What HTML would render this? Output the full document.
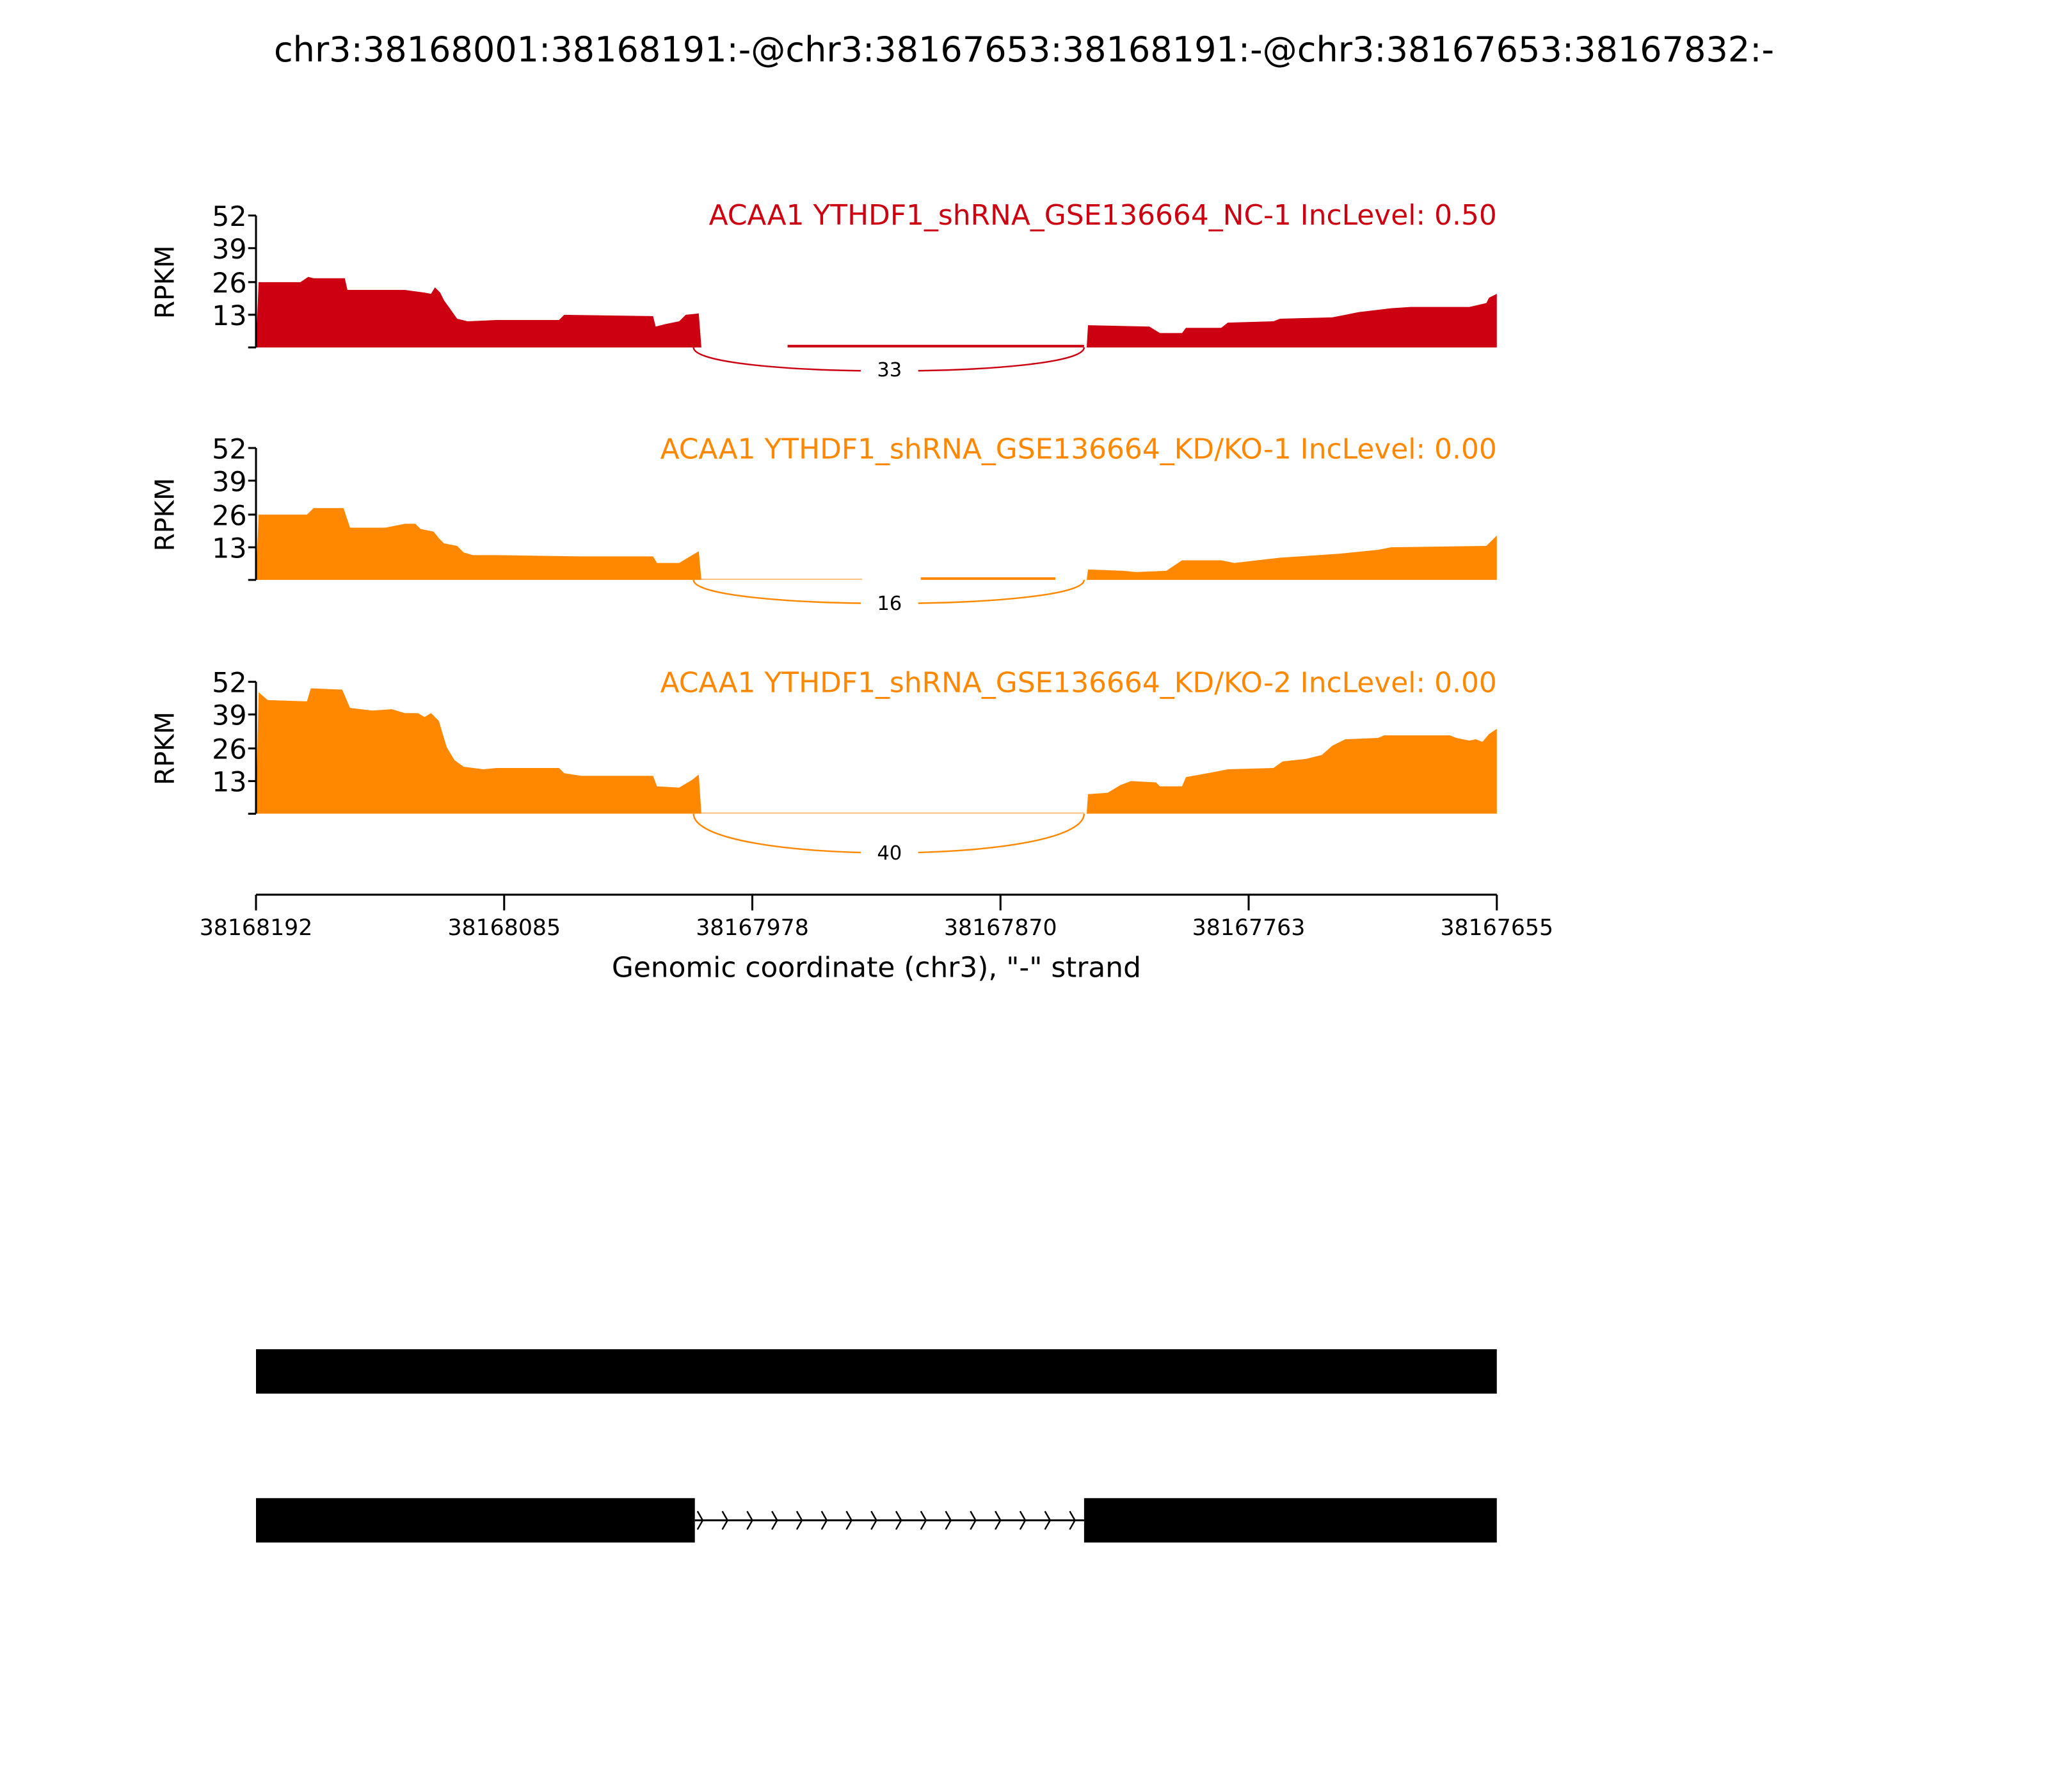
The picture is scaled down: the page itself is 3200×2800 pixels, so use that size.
<!DOCTYPE html>
<html><head><meta charset="utf-8"><style>html,body{margin:0;padding:0;background:#fff}svg{display:block}text{font-family:"DejaVu Sans","Liberation Sans",sans-serif}</style></head><body>
<svg width="3200" height="2800" viewBox="0 0 1568 1372" xmlns="http://www.w3.org/2000/svg">
<rect width="1568" height="1372" fill="#fff"/>
<text x="784" y="47" font-size="26.5" text-anchor="middle">chr3:38168001:38168191:-@chr3:38167653:38168191:-@chr3:38167653:38167832:-</text>

<!-- Panel 1 -->
<g>
<path fill="#cc0011" d="M196 266 L198 216 L230 216 L236 212 L240 213 L264 213 L266 222 L310 222 L325 224 L330 225 L333 220 L337 224 L340 230 L345 237 L350 244 L358 246 L380 245 L428 245 L432 241 L500 242 L502 250 L510 248 L520 246 L525 241 L535 240 L537 266 Z"/>
<rect x="603" y="264" width="227" height="2" fill="#cc0011"/>
<path fill="#cc0011" d="M832 266 L833 249 L880 250 L888 255 L905 255 L908 251 L935 251 L940 247 L975 246 L980 244 L1020 243 L1030 241 L1040 239 L1065 236 L1080 235 L1125 235 L1138 232 L1140 228 L1146 225 L1146 266 Z"/>
<path d="M531 266 C531 290 830 290 830 266" fill="none" stroke="#cc0011" stroke-width="1.2"/>
<rect x="659" y="273" width="44" height="18" fill="#fff"/>
<text x="681" y="288" font-size="15" text-anchor="middle">33</text>
<text x="1146" y="172" font-size="21.5" text-anchor="end" fill="#cc0011">ACAA1 YTHDF1_shRNA_GSE136664_NC-1 IncLevel: 0.50</text>
<path d="M196 165 V266 M190 165 H196 M190 190 H196 M190 216 H196 M190 241 H196 M190 266 H196" stroke="#000" stroke-width="1.5" fill="none"/>
<g font-size="21" text-anchor="end"><text x="189" y="173">52</text><text x="189" y="198">39</text><text x="189" y="224">26</text><text x="189" y="249">13</text></g>
<text transform="translate(133 216) rotate(-90)" font-size="20" text-anchor="middle">RPKM</text>
</g>

<!-- Panel 2 -->
<g>
<path fill="#ff8800" d="M196 444 L198 394 L235 394 L240 389 L263 389 L268 404 L295 404 L310 401 L318 401 L322 405 L332 407 L336 412 L340 416 L350 418 L355 423 L362 425 L380 425 L445 426 L500 426 L503 431 L520 431 L530 425 L535 422 L537 444 Z"/>
<rect x="537" y="443" width="123" height="1" fill="#ffc080"/>
<rect x="705" y="442" width="103" height="2" fill="#ff8800"/>
<path fill="#ff8800" d="M832 444 L833 436 L860 437 L870 438 L893 437 L905 429 L935 429 L945 431 L980 427 L1025 424 L1055 421 L1065 419 L1138 418 L1143 413 L1146 410 L1146 444 Z"/>
<path d="M531 444 C531 468 830 468 830 444" fill="none" stroke="#ff8800" stroke-width="1.2"/>
<rect x="659" y="452" width="44" height="18" fill="#fff"/>
<text x="681" y="467" font-size="15" text-anchor="middle">16</text>
<text x="1146" y="351" font-size="21.5" text-anchor="end" fill="#ff8800">ACAA1 YTHDF1_shRNA_GSE136664_KD/KO-1 IncLevel: 0.00</text>
<path d="M196 343 V444 M190 343 H196 M190 368 H196 M190 394 H196 M190 419 H196 M190 444 H196" stroke="#000" stroke-width="1.5" fill="none"/>
<g font-size="21" text-anchor="end"><text x="189" y="351">52</text><text x="189" y="376">39</text><text x="189" y="402">26</text><text x="189" y="427">13</text></g>
<text transform="translate(133 394) rotate(-90)" font-size="20" text-anchor="middle">RPKM</text>
</g>

<!-- Panel 3 -->
<g>
<path fill="#ff8800" d="M196 623 L198 530 L205 536 L235 537 L238 527 L262 528 L268 542 L285 544 L300 543 L310 546 L320 546 L325 549 L330 546 L336 552 L342 572 L348 582 L355 587 L370 589 L380 588 L428 588 L432 592 L445 594 L500 594 L503 602 L520 603 L530 597 L535 593 L537 623 Z"/>
<rect x="537" y="622" width="293" height="1" fill="#ffc080"/>
<path fill="#ff8800" d="M832 623 L833 608 L848 607 L858 601 L866 598 L885 599 L888 602 L905 602 L908 595 L930 591 L940 589 L975 588 L982 583 L1000 581 L1012 578 L1020 571 L1030 566 L1055 565 L1060 563 L1110 563 L1115 565 L1125 567 L1130 566 L1135 568 L1140 562 L1146 558 L1146 623 Z"/>
<path d="M531 623 C531 663 830 663 830 623" fill="none" stroke="#ff8800" stroke-width="1.2"/>
<rect x="659" y="642" width="44" height="20" fill="#fff"/>
<text x="681" y="658" font-size="15" text-anchor="middle">40</text>
<text x="1146" y="530" font-size="21.5" text-anchor="end" fill="#ff8800">ACAA1 YTHDF1_shRNA_GSE136664_KD/KO-2 IncLevel: 0.00</text>
<path d="M196 522 V623 M190 522 H196 M190 547 H196 M190 573 H196 M190 598 H196 M190 623 H196" stroke="#000" stroke-width="1.5" fill="none"/>
<g font-size="21" text-anchor="end"><text x="189" y="530">52</text><text x="189" y="555">39</text><text x="189" y="581">26</text><text x="189" y="606">13</text></g>
<text transform="translate(133 573) rotate(-90)" font-size="20" text-anchor="middle">RPKM</text>
</g>

<!-- X axis -->
<path d="M196 685 H1146 M196 685 V697 M386 685 V697 M576 685 V697 M766 685 V697 M956 685 V697 M1146 685 V697" stroke="#000" stroke-width="1.5" fill="none"/>
<g font-size="17" text-anchor="middle">
<text x="196" y="716">38168192</text><text x="386" y="716">38168085</text><text x="576" y="716">38167978</text><text x="766" y="716">38167870</text><text x="956" y="716">38167763</text><text x="1146" y="716">38167655</text>
</g>
<text x="671" y="748" font-size="21.5" text-anchor="middle">Genomic coordinate (chr3), "-" strand</text>

<!-- Gene models -->
<rect x="196" y="1033" width="950" height="34" fill="#000"/>
<rect x="196" y="1147" width="336" height="34" fill="#000"/>
<rect x="830" y="1147" width="316" height="34" fill="#000"/>
<line x1="532" y1="1164" x2="830" y2="1164" stroke="#000" stroke-width="1.5"/>
<path fill="none" stroke="#000" stroke-width="1.2" d="M534 1157 L538 1164 L534 1171 M553 1157 L557 1164 L553 1171 M572 1157 L576 1164 L572 1171 M591 1157 L595 1164 L591 1171 M610 1157 L614 1164 L610 1171 M629 1157 L633 1164 L629 1171 M648 1157 L652 1164 L648 1171 M667 1157 L671 1164 L667 1171 M686 1157 L690 1164 L686 1171 M705 1157 L709 1164 L705 1171 M724 1157 L728 1164 L724 1171 M743 1157 L747 1164 L743 1171 M762 1157 L766 1164 L762 1171 M781 1157 L785 1164 L781 1171 M800 1157 L804 1164 L800 1171 M819 1157 L823 1164 L819 1171"/>
</svg>
</body></html>
